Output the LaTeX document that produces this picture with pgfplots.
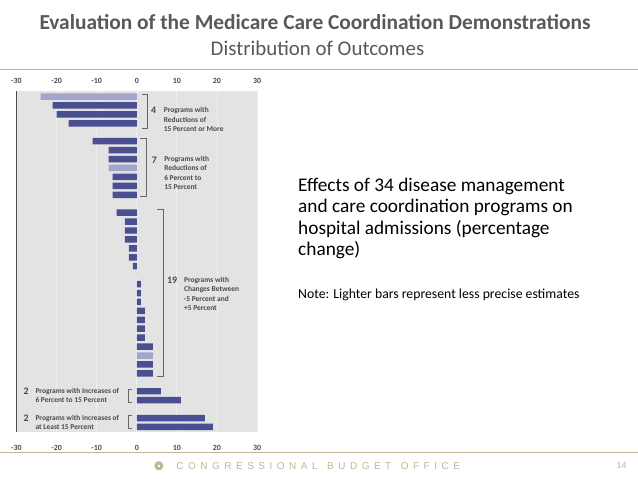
\documentclass[border=0pt]{standalone}
\usepackage{fontspec}
\setmainfont{Carlito}
\newfontfamily\footfont{Liberation Sans}
\usepackage{pgfplots}
\pgfplotsset{compat=1.18}

\definecolor{titlegray}{HTML}{595959}
\definecolor{cbotan}{HTML}{C4B49A}
\definecolor{panel}{HTML}{E3E3E3}
\definecolor{gridwhite}{HTML}{EFEFEF}
\definecolor{darkbar}{HTML}{4A4F91}
\definecolor{lightbar}{HTML}{A2A6CC}
\definecolor{annot}{HTML}{4A4A4A}

\tikzset{
  lbl/.style={text=annot, inner sep=0pt, anchor=west, align=left,
    font=\fontsize{7.5}{9.3}\selectfont\bfseries},
  num/.style={text=annot, inner sep=0pt, font=\fontsize{10}{11}\selectfont\bfseries},
  brk/.style={draw=gray!80!black, line width=0.6bp},
}

% bar rows (0 = top), value in percent
\pgfplotstableread{
row value
1 -21
2 -20
3 -17
5 -11
6 -7
7 -7
9 -6
10 -6
11 -6
13 -5
14 -3
15 -3
16 -3
17 -2
18 -2
19 -1
20 0
21 1
22 1
23 1
24 2
25 2
26 2
27 2
28 4
30 4
31 4
33 6
34 11
36 17
37 19
}\precise
\pgfplotstableread{
row value
0 -24
8 -7
29 4
}\imprecise

\begin{document}
\begin{tikzpicture}
\path[fill=white] (0,0) rectangle (638bp,479bp);

% header
\node[font=\fontsize{21.5}{25}\selectfont\bfseries, text=titlegray, inner sep=0pt]
  at (315bp,457bp) {Evaluation of the Medicare Care Coordination Demonstrations};
\node[font=\fontsize{21}{25}\selectfont, text=titlegray, inner sep=0pt]
  at (317.5bp,431bp) {Distribution of Outcomes};
\draw[cbotan, line width=1bp] (0,409.5bp) -- (638bp,409.5bp);

% footer
\draw[cbotan, line width=0.8bp] (0,26bp) -- (638bp,26bp);
\fill[cbotan] (158.6bp,12.5bp) circle (4.6bp);
\fill[white] (157.4bp,11.3bp) rectangle (159.8bp,13.7bp);
\node[font=\footfont\fontsize{10}{12}\selectfont, text=cbotan, inner sep=0pt, anchor=west]
  at (176bp,12.5bp) {\makebox[284bp][s]{C O N G R E S S I O N A L\hspace{5bp} B U D G E T\hspace{5bp} O F F I C E}};
\node[font=\footfont\fontsize{9}{11}\selectfont, text=cbotan, inner sep=0pt]
  at (622bp,12.5bp) {14};

% description
\begin{scope}[every node/.style={anchor=base west, inner sep=0pt, text=black,
    font=\fontsize{19.4}{22}\selectfont}]
\node at (298bp,287.3bp) {Effects of 34 disease management};
\node at (298bp,265.8bp) {and care coordination programs on};
\node at (298bp,244.3bp) {hospital admissions (percentage};
\node at (298bp,222.8bp) {change)};
\node[font=\fontsize{13.8}{16}\selectfont] at (298bp,180bp)
  {Note: Lighter bars represent less precise estimates};
\end{scope}

\pgfplotsset{
  cbo frame/.style={
    at={(16bp,388.3bp)}, anchor=north west,
    scale only axis, width=241bp, height=342.3bp,
    xmin=-30, xmax=30, ymin=-0.67, ymax=37.6, y dir=reverse,
    axis line style={draw=none},
    major tick style={draw=none},
    ytick=\empty,
    xtick={-30,-20,-10,0,10,20,30},
    xticklabels={-30,-20,-10,0,10,20,30},
    xticklabel style={font=\fontsize{8}{9}\selectfont\bfseries, text=annot},
  },
}

\begin{axis}[
  cbo frame,
  xticklabel pos=right,
  xticklabel style={yshift=3bp},
  axis background/.style={fill=panel},
  xmajorgrids, grid style={gridwhite, line width=0.9bp},
  xbar, bar width=6.5bp, bar shift=0pt,
  clip=false,
]
\addplot[fill=darkbar, draw=none] table[x=value, y=row] {\precise};
\addplot[fill=lightbar, draw=none] table[x=value, y=row] {\imprecise};

\draw[gray!60!black, line width=1bp] (rel axis cs:0,0) -- (rel axis cs:0,1);

% group brackets
\draw[brk] (axis cs:1.3,-0.3) -- (axis cs:2.6,-0.3) -- (axis cs:2.6,3.6) -- (axis cs:1.3,3.6);
\draw[brk] (axis cs:0.9,4.65) -- (axis cs:2.4,4.65) -- (axis cs:2.4,11.2) -- (axis cs:0.9,11.2);
\draw[brk] (axis cs:5.1,12.66) -- (axis cs:6.6,12.66) -- (axis cs:6.6,31.3) -- (axis cs:5.1,31.3);
\draw[brk] (axis cs:-1.3,32.8) -- (axis cs:-2.15,32.8) -- (axis cs:-2.15,34.2) -- (axis cs:-1.3,34.2);
\draw[brk] (axis cs:-1.3,35.7) -- (axis cs:-2.15,35.7) -- (axis cs:-2.15,37.2) -- (axis cs:-1.3,37.2);

% group labels
\node[num] at (axis cs:4.2,1.5) {4};
\node[lbl] at (axis cs:6.7,2.58) {Programs with\\Reductions of\\15 Percent or More};
\node[num] at (axis cs:4.4,7.15) {7};
\node[lbl] at (axis cs:6.8,8.55) {Programs with\\Reductions of\\6 Percent to\\15 Percent};
\node[num] at (axis cs:8.8,20.6) {19};
\node[lbl] at (axis cs:11.75,22.1) {Programs with\\Changes Between\\-5 Percent and\\+5 Percent};
\node[num] at (axis cs:-27.6,33) {2};
\node[lbl] at (axis cs:-25.3,33.5) {Programs with Increases of\\6 Percent to 15 Percent};
\node[num] at (axis cs:-27.6,36) {2};
\node[lbl] at (axis cs:-25.3,36.5) {Programs with Increases of\\at Least 15 Percent};
\end{axis}

% tick labels along the bottom
\begin{axis}[cbo frame, xticklabel pos=left, xticklabel style={yshift=-9bp}]
\end{axis}
\end{tikzpicture}
\end{document}
